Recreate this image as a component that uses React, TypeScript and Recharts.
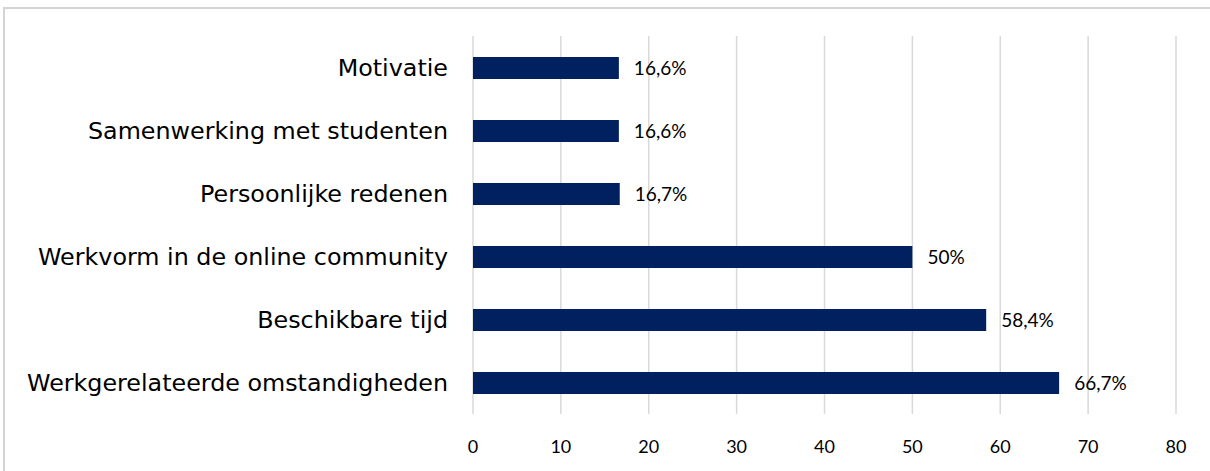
import { BarChart, Bar, XAxis, YAxis, CartesianGrid, LabelList } from 'recharts';

const categories = [
  'Motivatie',
  'Samenwerking met studenten',
  'Persoonlijke redenen',
  'Werkvorm in de online community',
  'Beschikbare tijd',
  'Werkgerelateerde omstandigheden',
];
const percentages = [16.6, 16.6, 16.7, 50, 58.4, 66.7];
const xTicks = [0, 10, 20, 30, 40, 50, 60, 70, 80];

const data = categories.map((name, i) => ({ name, value: percentages[i] }));

const fmt = (v: number) => `${String(v).replace('.', ',')}%`;

export default function App() {
  return (
    <div style={{ position: 'absolute', left: 0, top: 0, width: 1210, height: 471, background: '#fff', overflow: 'hidden' }}>
      <BarChart
        width={1210}
        height={471}
        data={data}
        layout="vertical"
        margin={{ top: 36, right: 34, bottom: 27, left: 0 }}
        barSize={22}
      >
        <CartesianGrid horizontal={false} stroke="#d9d9d9" strokeWidth={1.5} />
        <XAxis
          type="number"
          domain={[0, 80]}
          ticks={xTicks}
          axisLine={false}
          tickLine={false}
          height={30}
          tickMargin={20}
          tick={{ fill: '#000', fontSize: 18, fontFamily: 'Lato' }}
        />
        <YAxis
          type="category"
          dataKey="name"
          width={473}
          axisLine={false}
          tickLine={false}
          tickMargin={19}
          tick={{ fill: '#000', fontSize: 23.8, fontFamily: 'DejaVu Sans' }}
        />
        <Bar dataKey="value" fill="#002060" isAnimationActive={false}>
          <LabelList
            dataKey="value"
            position="right"
            offset={15}
            formatter={(v: any) => fmt(Number(v))}
            style={{ fill: '#000', fontSize: 19, fontFamily: 'Lato' }}
          />
        </Bar>
      </BarChart>
      <div
        style={{
          position: 'absolute',
          left: 3,
          top: 7,
          right: 0,
          bottom: 0,
          borderLeft: '2px solid #d4d4d4',
          borderTop: '2px solid #d4d4d4',
          pointerEvents: 'none',
          zIndex: 2,
        }}
      />
    </div>
  );
}
